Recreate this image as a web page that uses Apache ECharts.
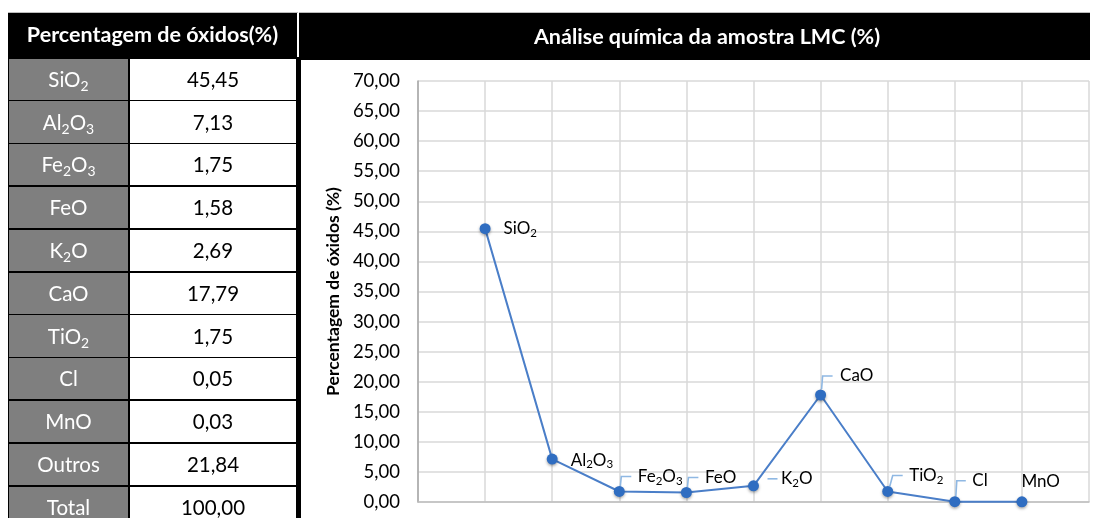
<!DOCTYPE html>
<html>
<head>
<meta charset="utf-8">
<script src="https://cdn.jsdelivr.net/npm/echarts@6/dist/echarts.min.js"></script>
<style>
  html, body { margin: 0; padding: 0; background: #fff; }
  #chart { position: absolute; left: 0; top: 0; width: 1100px; height: 518px; }
  #table { position: absolute; left: 0; top: 0; width: 302px; height: 518px; overflow: hidden;
           font-family: Lato, "Open Sans", sans-serif; }
  .cell { position: absolute; display: flex; align-items: center; justify-content: center; box-sizing: border-box; }
  .cell span { display: inline-block; line-height: 1; white-space: nowrap; }
  .cell sub { font-size: 0.68em; vertical-align: -0.3em; line-height: 0; }
</style>
</head>
<body>
<div id="chart"></div>
<div id="table"></div>
<script>
// Oxide composition of sample LMC (%)
const oxides = ['SiO2', 'Al2O3', 'Fe2O3', 'FeO', 'K2O', 'CaO', 'TiO2', 'Cl', 'MnO'];
const oxideValues = [45.45, 7.13, 1.75, 1.58, 2.69, 17.79, 1.75, 0.05, 0.03];
const extraRows = ['Outros', 'Total'];
const extraValues = [21.84, 100.00];
const tableTitle = 'Percentagem de óxidos(%)';
const chartTitle = 'Análise química da amostra LMC (%)';
const yAxisTitle = 'Percentagem de óxidos (%)';
const yMin = 0, yMax = 70, yStep = 5;

const fmt = v => v.toFixed(2).replace('.', ',');
const toHtml = s => s.replace(/(\d)/g, '<sub>$1</sub>');
const toRich = s => s.split(/(\d)/).filter(Boolean)
  .map(p => /\d/.test(p) ? '{s|' + p + '}' : '{n|' + p + '}').join('');

// ---- table on the left ----
const tbl = document.getElementById('table');
function addDiv(css, html) {
  const d = document.createElement('div');
  d.className = 'cell';
  Object.assign(d.style, css);
  if (html !== undefined) d.innerHTML = '<span>' + html + '</span>';
  tbl.appendChild(d);
  return d;
}
addDiv({ left: '8px', top: '12px', width: '290px', height: '1px', background: '#bdbdbd' });
addDiv({ left: '8px', top: '13px', width: '289px', height: '44px', background: '#000',
         color: '#fff', fontWeight: 'bold', fontSize: '21.5px' }, tableTitle);
const rowNames = oxides.concat(extraRows);
const rowValues = oxideValues.concat(extraValues);
const rowH = 42.8, rowTop = 57;
addDiv({ left: '8px', top: rowTop + 'px', width: '293px', height: (518 - rowTop) + 'px', background: '#000' });
rowNames.forEach((name, i) => {
  const top = rowTop + i * rowH + 1.5;
  addDiv({ left: '9px', top: top + 'px', width: '119px', height: (rowH - 1.5) + 'px',
           background: '#7f7f7f', color: '#fff', fontSize: '20.5px' }, toHtml(name));
  addDiv({ left: '130px', top: top + 'px', width: '166px', height: (rowH - 1.5) + 'px',
           background: '#fff', color: '#000', fontSize: '20.5px' }, fmt(rowValues[i]));
});

// ---- label placement and leader lines (pixel offsets from each point) ----
const labelPlace = {
  SiO2: [13, 0], Al2O3: [13, 1], Fe2O3: [13, -15], FeO: [13, -15], K2O: [22, -7],
  CaO: [14, -19], TiO2: [16, -16], Cl: [12, -21], MnO: [-6, -20]
};
const leaderPath = {
  Fe2O3: [[1, -5], [2, -15], [12, -15]],
  FeO:   [[1, -5], [2, -15], [12, -15]],
  K2O:   [[14, -7], [24, -7]],
  CaO:   [[1, -6], [2, -19], [12, -19]],
  TiO2:  [[2, -5], [5, -16], [15, -16]],
  Cl:    [[1, -5], [2, -21], [11, -21]]
};

const categories = [''].concat(oxides, [' ']);
const font = 'Lato, "Open Sans", sans-serif';

const chart = echarts.init(document.getElementById('chart'), null, { renderer: 'canvas' });
chart.setOption({
  animation: false,
  textStyle: { fontFamily: font },
  graphic: [
    { type: 'rect', shape: { x: 299, y: 12, width: 791, height: 1 }, style: { fill: '#bdbdbd' } },
    { type: 'rect', shape: { x: 299, y: 13, width: 791, height: 47 }, style: { fill: '#000' } },
    { type: 'rect', shape: { x: 296, y: 57, width: 5, height: 461 }, style: { fill: '#000' } },
    { type: 'text', x: 707, y: 37,
      style: { text: chartTitle, fill: '#fff', font: 'bold 21.5px ' + font, align: 'center', verticalAlign: 'middle' } }
  ],
  grid: { left: 418, top: 81, width: 671, height: 421 },
  xAxis: {
    type: 'category', data: categories, boundaryGap: false,
    axisLine: { show: true, lineStyle: { color: '#bfbfbf', width: 1.5 } },
    axisTick: { show: false }, axisLabel: { show: false },
    splitLine: { show: true, interval: 0, lineStyle: { color: '#d9d9d9', width: 1.5 } }
  },
  yAxis: {
    type: 'value', min: yMin, max: yMax, interval: yStep,
    name: yAxisTitle, nameLocation: 'middle', nameGap: 61,
    nameTextStyle: { fontSize: 17.5, fontWeight: 'bold', color: '#000', fontFamily: font },
    axisLine: { show: true, lineStyle: { color: '#a6a6a6', width: 1.5 } },
    axisTick: { show: false },
    axisLabel: { formatter: v => fmt(v), fontSize: 18.5, color: '#000', margin: 18, fontFamily: font },
    splitLine: { show: true, lineStyle: { color: '#d9d9d9', width: 1.5 } }
  },
  series: [
    {
      type: 'custom', z: 1, silent: true,
      data: oxides.map((n, i) => ({ name: n, value: [n, oxideValues[i]] })).filter(d => leaderPath[d.name]),
      renderItem: (params, api) => {
        const name = oxides[api.value(0) - 1];
        const p = api.coord([api.value(0), api.value(1)]);
        return {
          type: 'polyline',
          shape: { points: leaderPath[name].map(o => [p[0] + o[0], p[1] + o[1]]) },
          style: { stroke: '#8fb8e3', lineWidth: 1.6, fill: null }
        };
      }
    },
    {
      type: 'line', z: 3,
      data: oxides.map((n, i) => ({
        name: n, value: [n, oxideValues[i]],
        label: { offset: labelPlace[n] }
      })),
      symbol: 'circle', symbolSize: 11,
      lineStyle: { color: '#4a7ec8', width: 2 },
      itemStyle: { color: '#2f6dc1', shadowColor: 'rgba(0,0,0,0.35)', shadowBlur: 3, shadowOffsetY: 1.5 },
      label: {
        show: true, position: 'right', distance: 0,
        formatter: p => toRich(p.name),
        rich: {
          n: { fontSize: 17, color: '#000', fontFamily: font, lineHeight: 20 },
          s: { fontSize: 11.5, color: '#000', fontFamily: font, lineHeight: 20, padding: [9, 0, 0, 0] }
        }
      }
    }
  ]
});
</script>
</body>
</html>
